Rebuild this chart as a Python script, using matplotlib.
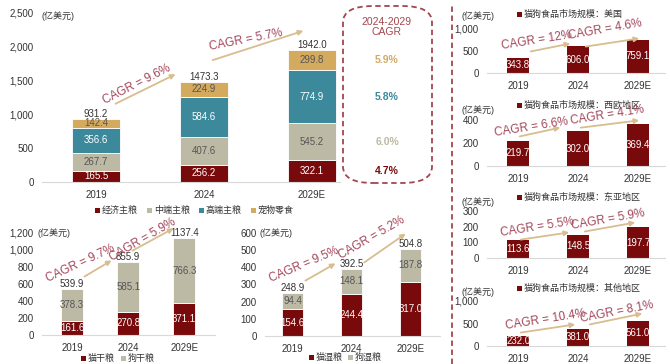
import matplotlib
matplotlib.use("Agg")
import matplotlib.pyplot as plt
from matplotlib.patches import FancyArrowPatch, FancyBboxPatch, Rectangle
from matplotlib.lines import Line2D

plt.rcParams["font.family"] = ["Liberation Sans", "Noto Sans CJK SC", "DejaVu Sans"]

YEARS = ["2019", "2024", "2029E"]

# main panel: global pet food segments (亿美元)
ECONOMY = [165.5, 256.2, 322.1]
MID = [267.7, 407.6, 545.2]
PREMIUM = [356.6, 584.6, 774.9]
TREATS = [142.4, 224.9, 299.8]
TOTAL = [931.2, 1473.3, 1942.0]
MAIN_LEGEND = ["经济主粮", "中端主粮", "高端主粮", "宠物零食"]
SEG_CAGR = ["4.7%", "6.0%", "5.8%", "5.9%"]
MAIN_CAGR = ["CAGR = 9.6%", "CAGR = 5.7%"]

# dry food
CAT_DRY = [161.6, 270.8, 371.1]
DOG_DRY = [378.3, 585.1, 766.3]
DRY_TOTAL = [539.9, 855.9, 1137.4]
DRY_CAGR = ["CAGR = 9.7%", "CAGR = 5.9%"]

# wet food
CAT_WET = [154.6, 244.4, 317.0]
DOG_WET = [94.4, 148.1, 187.8]
WET_TOTAL = [248.9, 392.5, 504.8]
WET_CAGR = ["CAGR = 9.5%", "CAGR = 5.2%"]

# regional markets
REGIONS = ["美国", "西欧地区", "东亚地区", "其他地区"]
US = [343.8, 606.0, 759.1]
W_EUROPE = [219.7, 302.0, 369.4]
E_ASIA = [113.6, 148.5, 197.7]
OTHER = [232.0, 381.0, 561.0]  # labels hidden by watermark
REGION_CAGR = [["CAGR = 12%", "CAGR = 4.6%"], ["CAGR = 6.6%", "CAGR = 4.1%"],
               ["CAGR = 5.5%", "CAGR = 5.9%"], ["CAGR = 10.4%", "CAGR = 8.1%"]]

RED = "#780a0c"
BEIGE = "#bcb9a5"
TEAL = "#3b899b"
GOLD = "#d4aa5f"
CAGR_C = "#a3465a"
ARROW_C = "#d8bd8e"
BOX_C = "#a3464e"
TXT = "#333333"

W, H = 670, 364
fig = plt.figure(figsize=(W / 100, H / 100), dpi=100)


def ax_px(l, t, r, b):
    return fig.add_axes([l / W, 1 - b / H, (r - l) / W, (b - t) / H])


def ftext(x, y, s, **kw):
    return fig.text(x / W, 1 - y / H, s, **kw)


def farrow(x1, y1, x2, y2):
    fig.add_artist(FancyArrowPatch((x1 / W, 1 - y1 / H), (x2 / W, 1 - y2 / H),
                                   transform=fig.transFigure, arrowstyle="-|>",
                                   mutation_scale=7, color=ARROW_C, lw=1.3))


def fbox(x, y, c, size=6):
    fig.add_artist(Rectangle((x / W, 1 - (y + size / 2) / H), size / W, size / H,
                             transform=fig.transFigure, color=c, lw=0))


def style(ax, xlim, top, ticks, fs=7):
    ax.set_xlim(*xlim)
    ax.set_ylim(0, top)
    ax.set_yticks(ticks)
    ax.set_yticklabels([f"{t:,}" for t in ticks])
    ax.set_xticks(range(len(YEARS)))
    ax.set_xticklabels(YEARS)
    ax.tick_params(length=0, labelsize=fs, colors=TXT, pad=6)
    for s in ("left", "top", "right"):
        ax.spines[s].set_visible(False)
    ax.spines["bottom"].set_color("#d9d9d9")
    ax.patch.set_alpha(0)


def stacked(ax, series, colors, label_colors, width, total, fs=7):
    x = range(len(YEARS))
    bottom = [0] * len(YEARS)
    for vals, c, lc in zip(series, colors, label_colors):
        ax.bar(x, vals, width, bottom=bottom, color=c, edgecolor="white", lw=0.6)
        for i, v in enumerate(vals):
            ax.text(i, bottom[i] + v / 2, f"{v:.1f}", ha="center", va="center",
                    fontsize=fs, color=lc)
        bottom = [b + v for b, v in zip(bottom, vals)]
    for i, t in enumerate(total):
        ax.text(i, bottom[i], f"{t:.1f}", ha="center", va="bottom", fontsize=fs,
                color=TXT)


# ---- main panel
ax = ax_px(42, 12, 340, 182)
style(ax, (-0.5, 2.26), 2500, [0, 500, 1000, 1500, 2000, 2500])
stacked(ax, [ECONOMY, MID, PREMIUM, TREATS], [RED, BEIGE, TEAL, GOLD],
        ["white", "#555555", "white", "#555555"], 0.44, TOTAL)
ftext(42, 16, "(亿美元)", fontsize=6.5, color=TXT, va="center")
ftext(137, 84, MAIN_CAGR[0], fontsize=8.5, color=CAGR_C, rotation=27,
      ha="center", va="center")
farrow(113, 105, 178, 73)
ftext(246, 40, MAIN_CAGR[1], fontsize=8.5, color=CAGR_C, rotation=11,
      ha="center", va="center")
farrow(210, 61, 306, 30)

fig.add_artist(FancyBboxPatch((343 / W, 1 - 183 / H), 89 / W, 177 / H,
                              boxstyle="round,pad=0,rounding_size=0.045",
                              transform=fig.transFigure, fill=False,
                              ec=BOX_C, lw=1.3, ls=(0, (3, 2))))
ftext(387, 27, "2024-2029\nCAGR", fontsize=7.5, color=BOX_C, ha="center",
      va="center", linespacing=1.1)
seg_vals = [ECONOMY[2], MID[2], PREMIUM[2], TREATS[2]]
pct_colors = [RED, BEIGE, TEAL, GOLD]
base = 0
for v, s, c in zip(seg_vals, SEG_CAGR, pct_colors):
    ypix = 182 - (base + v / 2) / 2500 * 170
    ftext(387, ypix, s, fontsize=7.5, color=c, ha="center", va="center",
          fontweight="bold")
    base += v

x0 = 95
for name, c in zip(MAIN_LEGEND, [RED, BEIGE, TEAL, GOLD]):
    fbox(x0, 210, c, 5)
    ftext(x0 + 7, 210, name, fontsize=6.5, color=TXT, va="center")
    x0 += 52

# separator
fig.add_artist(Line2D([452 / W, 452 / W], [0, 1 - 5 / H], transform=fig.transFigure,
                      color=BOX_C, lw=1.3, ls=(0, (3, 2))))

# ---- dry food panel
ax = ax_px(42, 233, 215, 335)
style(ax, (-0.54, 2.55), 1200, [0, 200, 400, 600, 800, 1000, 1200])
stacked(ax, [CAT_DRY, DOG_DRY], [RED, BEIGE], ["white", "#555555"], 0.4, DRY_TOTAL)
ftext(37, 233, "(亿美元)", fontsize=6.5, color=TXT, va="center")
ftext(80, 264, DRY_CAGR[0], fontsize=8.5, color=CAGR_C, rotation=25,
      ha="center", va="center")
farrow(82, 278, 114, 259)
ftext(143, 240, DRY_CAGR[1], fontsize=8.5, color=CAGR_C, rotation=30,
      ha="center", va="center")
farrow(130, 252, 176, 227)
for x0, name, c in [(81, "猫干粮", RED), (121, "狗干粮", BEIGE)]:
    fbox(x0, 358, c, 5)
    ftext(x0 + 7, 358, name, fontsize=6.5, color=TXT, va="center")

# ---- wet food panel
ax = ax_px(265, 233, 440, 336)
style(ax, (-0.47, 2.5), 600, [0, 100, 200, 300, 400, 500, 600])
stacked(ax, [CAT_WET, DOG_WET], [RED, BEIGE], ["white", "#555555"], 0.36, WET_TOTAL)
ftext(259, 233, "(亿美元)", fontsize=6.5, color=TXT, va="center")
ftext(304, 265, WET_CAGR[0], fontsize=8.5, color=CAGR_C, rotation=23,
      ha="center", va="center")
farrow(303, 282, 338, 262)
ftext(372, 238, WET_CAGR[1], fontsize=8.5, color=CAGR_C, rotation=30,
      ha="center", va="center")
farrow(362, 264, 408, 232)
for x0, name, c in [(309, "猫湿粮", RED), (348, "狗湿粮", BEIGE)]:
    fbox(x0, 357, c, 5)
    ftext(x0 + 7, 357, name, fontsize=6.5, color=TXT, va="center")

# ---- regional panels
panels = [
    (US, 29, 73, 1000, [0, 500, 1000], 14, 16,
     [(537, 40, 9), (605, 30, 10)], [(528, 52, 573, 43), (583, 47, 642, 38)]),
    (W_EUROPE, 120, 166, 400, [0, 200, 400], 105, 110,
     [(531, 127, 9), (607, 115, 9)], [(517, 137, 563, 127), (578, 128, 642, 120)]),
    (E_ASIA, 211, 258, 300, [0, 100, 200, 300], 197, 202,
     [(537, 227, 9), (608, 220, 10)], [(518, 240, 572, 232), (582, 232, 638, 222)]),
    (OTHER, 301, 346, 1000, [0, 500, 1000], 288, 292,
     [(546, 320, 9), (617, 312, 11)], [(518, 333, 578, 324), (587, 325, 645, 313)]),
]
for (vals, top, bot, ymax, ticks, ly, uy, tpos, apos), region, cagr in zip(
        panels, REGIONS, REGION_CAGR):
    ax = ax_px(487, top, 665, bot)
    style(ax, (-0.52, 2.45), ymax, ticks)
    ax.bar(range(3), vals, 0.37, color=RED)
    for i, v in enumerate(vals):
        ax.text(i, v / 2, f"{v:.1f}", ha="center", va="center", fontsize=7,
                color="white")
    fbox(517, ly, RED, 5)
    ftext(524, ly, "猫狗食品市场规模：" + region, fontsize=6.5, color=TXT,
          va="center")
    ftext(462, uy, "(亿美元)", fontsize=6.5, color=TXT, va="center")
    for (tx, ty, rot), s in zip(tpos, cagr):
        ftext(tx, ty, s, fontsize=8.5, color=CAGR_C, rotation=rot,
              ha="center", va="center")
    for a in apos:
        farrow(*a)

fig.savefig("out.png", dpi=100)
